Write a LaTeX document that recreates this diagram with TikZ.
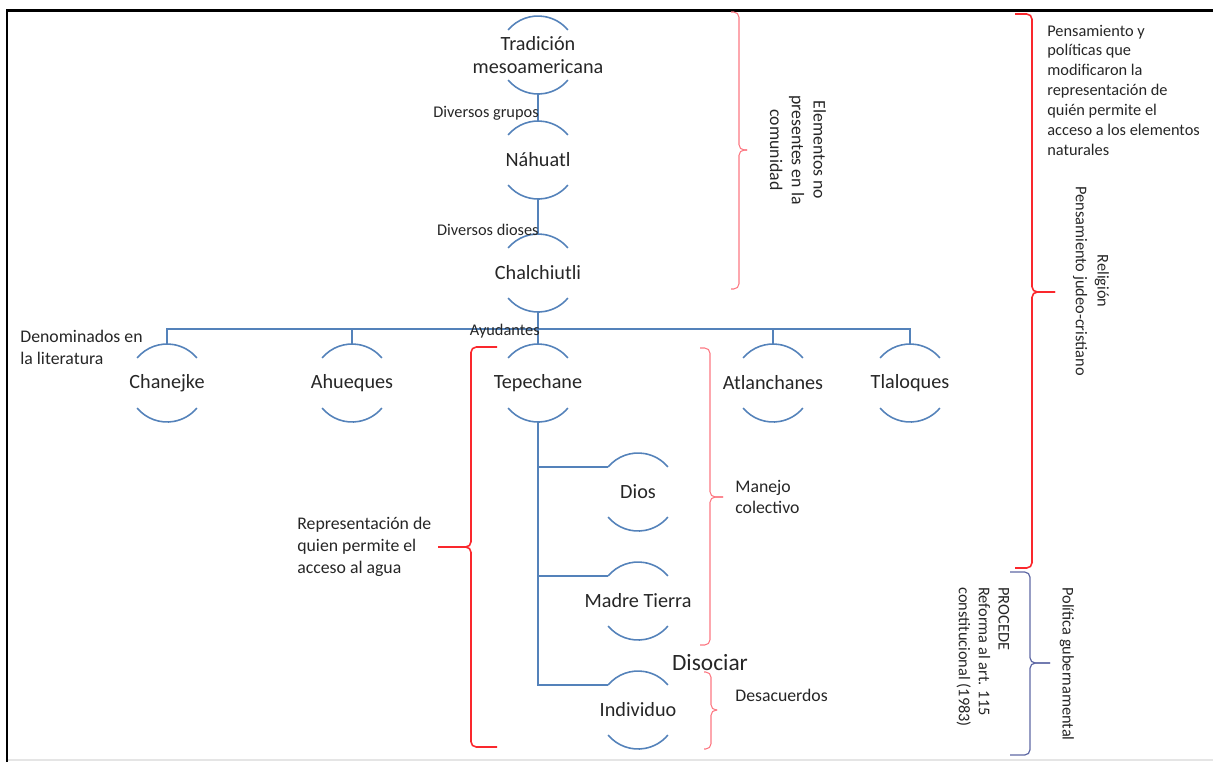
\documentclass[tikz,border=0pt]{standalone}
\usepackage{fontspec}
\setmainfont{Carlito}

\definecolor{treeblue}{RGB}{84,130,186}
\definecolor{bracered}{RGB}{250,40,45}
\definecolor{lightred}{RGB}{252,120,130}
\definecolor{braceblue}{RGB}{95,105,165}
\definecolor{txt}{RGB}{38,38,38}

\newcommand{\sidebrace}[7]{%
    \draw[#1] (#2,#5) -| (#3,#6) -- (#4,#6);
    \draw[#1] (#4,#6) -- (#3,#6) |- (#2,#7);
}

\begin{document}
\begin{tikzpicture}[x=0.02cm, y=0.02cm,
    branch/.style={draw=treeblue, line width=0.9pt},
    concept/.style={circle, minimum size=1.56cm, inner sep=0pt, outer sep=0pt,
        label={[conceptlabel]center:#1}},
    conceptlabel/.style={font=\fontsize{11.5}{13.2}\selectfont, text=txt, align=center, inner sep=0pt},
    linktxt/.style={font=\fontsize{9.3}{11.3}\selectfont, text=txt, inner sep=0pt},
    notetxt/.style={font=\fontsize{10.1}{12.4}\selectfont, text=txt, align=left, inner sep=0pt},
    sidetxt/.style={font=\fontsize{9.3}{11.3}\selectfont, text=txt, align=left, inner sep=0pt},
    lightbrace/.style={draw=lightred, line width=0.6pt, rounded corners=3pt},
    redbrace/.style={draw=bracered, line width=0.9pt, rounded corners=3pt},
    bluebrace/.style={draw=braceblue, line width=0.7pt, rounded corners=3pt}]

    \useasboundingbox (0,0) rectangle (1213,-762);
    \draw[line width=1.7pt] (7,-762) -- (7,-10) -- (1213,-10);
    \draw[black!10, line width=0.8pt] (8,-760) -- (1213,-760);

    \node[concept={Tradición\\mesoamericana}] (trad) at (538,-55) {};
    \node[concept={Náhuatl}] (nah) at (538,-160) {};
    \node[concept={Chalchiutli}] (chal) at (538,-273) {};

    \node[concept={Chanejke}] (chan) at (167,-383) {};
    \node[concept={Ahueques}] (ahue) at (352,-383) {};
    \node[concept={Tepechane}] (tepe) at (538,-383) {};
    \node[concept={Atlanchanes}] (atla) at (773,-383) {};
    \node[concept={Tlaloques}] (tlal) at (910,-383) {};

    \node[concept={Dios}] (dios) at (638,-492) {};
    \node[concept={Madre Tierra}] (madre) at (638,-601) {};
    \node[concept={Individuo}] (indiv) at (638,-710) {};

    \foreach \n in {trad,nah,chal,chan,ahue,tepe,atla,tlal,dios,madre,indiv}
        \draw[branch] (\n.140) arc[start angle=140, end angle=40, radius=0.78cm]
            (\n.220) arc[start angle=220, end angle=320, radius=0.78cm];

    \draw[branch] (trad.south) -- (nah.north);
    \draw[branch] (nah.south) -- (chal.north);
    \draw[branch] (chal.south) -- ++(0,-17) coordinate (bus);
    \foreach \n in {chan,ahue,tepe,atla,tlal}
        \draw[branch] (\n.north) |- (bus);
    \foreach \n in {dios,madre,indiv}
        \draw[branch] (tepe.south) |- (\n.140);

    \node[linktxt, anchor=east] (grupos) at (539,-113) {Diversos grupos};
    \node[linktxt, anchor=east] (dioses) at (539,-230) {Diversos dioses};
    \node[linktxt, anchor=east] (ayud) at (540,-331) {Ayudantes};

    \node[notetxt, anchor=west] (denom) at (20,-347) {Denominados en\\la literatura};
    \node[notetxt, anchor=west] (repr) at (297,-547) {Representación de\\quien permite el\\acceso al agua};
    \node[notetxt, anchor=west] (manejo) at (735,-497) {Manejo\\colectivo};
    \node[notetxt, anchor=west] (desac) at (735,-695) {Desacuerdos};
    \node[font=\fontsize{13.3}{15}\selectfont, text=txt, inner sep=0pt] (disoc) at (710,-663) {Disociar};

    \node[notetxt, align=center, rotate=-90] (elem) at (798,-150) {Elementos no\\presentes en la\\comunidad};
    \node[sidetxt, anchor=west] (pensam) at (1047,-90) {Pensamiento y\\políticas que\\modificaron la\\representación de\\quién permite el\\acceso a los elementos\\naturales};
    \node[sidetxt, font=\fontsize{9.3}{12.4}\selectfont, align=center, rotate=-90] (relig) at (1091,-281) {Religión\\Pensamiento judeo-cristiano};
    \node[sidetxt, anchor=west, rotate=-90] (procede) at (983,-587) {PROCEDE\\Reforma al art. 115\\constitucional (1983)};
    \node[sidetxt, rotate=-90] (polit) at (1067,-664) {Política gubernamental};

    \sidebrace{lightbrace}{731}{739}{747}{-12}{-150}{-289}
    \sidebrace{redbrace}{1015}{1032}{1055}{-14}{-292}{-568}
    \sidebrace{bluebrace}{1010}{1030}{1050}{-572}{-663}{-755}
    \sidebrace{redbrace}{497}{471}{438}{-347}{-547}{-747}
    \sidebrace{lightbrace}{700}{710}{723}{-348}{-497}{-645}
    \sidebrace{lightbrace}{704}{711}{717}{-672}{-710}{-749}
\end{tikzpicture}
\end{document}
